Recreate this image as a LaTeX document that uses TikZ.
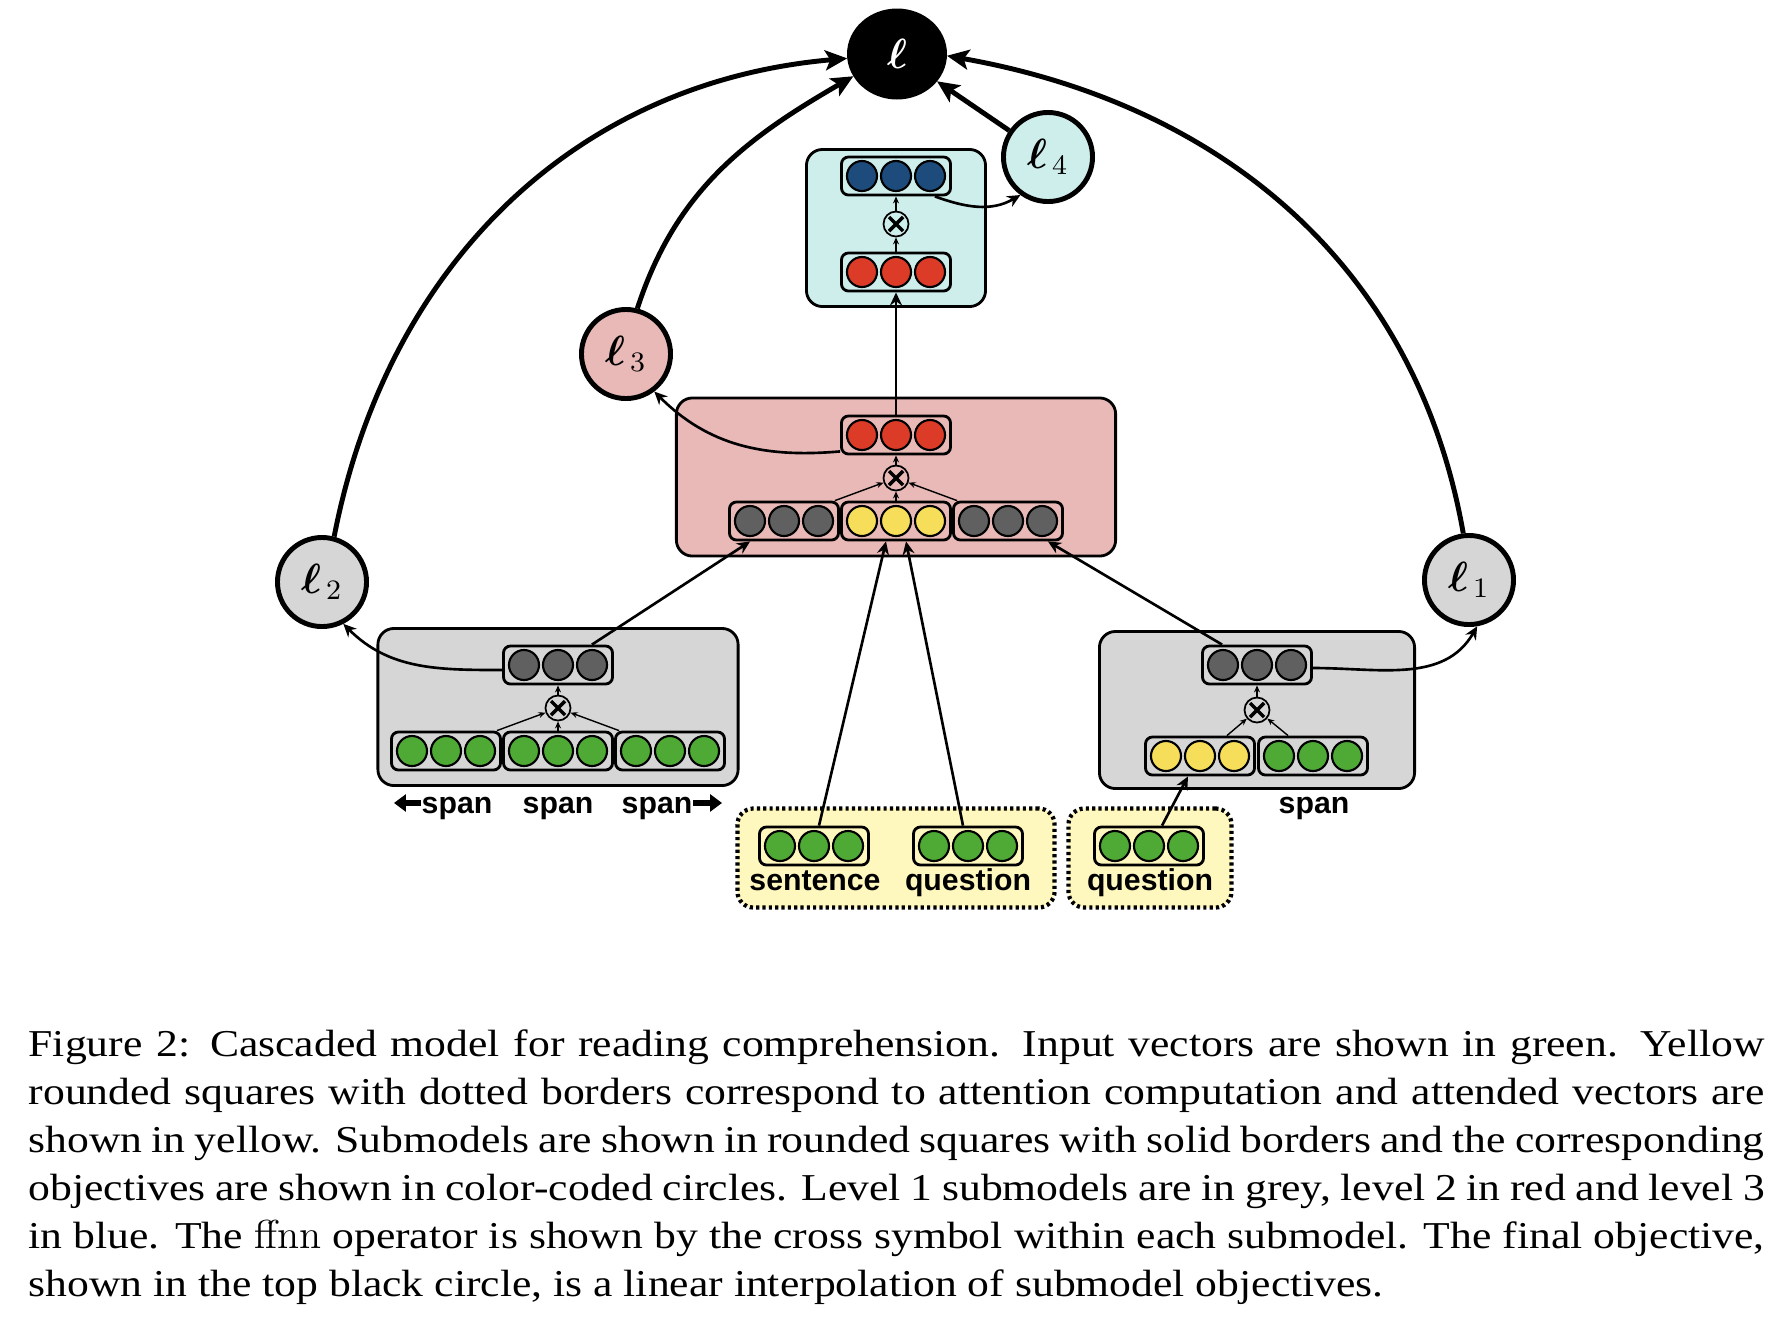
\documentclass[tikz,border=0pt]{standalone}
\usepackage{fontspec}
\usepackage{bm}
\usetikzlibrary{arrows.meta,shapes.geometric}
\newfontfamily\labfont{Liberation Sans}
\newfontfamily\capfont{Liberation Serif}[FakeStretch=1.149]
\definecolor{greyfill}{HTML}{D6D6D6}
\definecolor{redfill}{HTML}{E8B9B7}
\definecolor{bluefill}{HTML}{CEEEEC}
\definecolor{attnfill}{HTML}{FFF8BE}
\definecolor{unitgreen}{HTML}{4EAA35}
\definecolor{unityellow}{HTML}{F6DE5A}
\definecolor{unitgrey}{HTML}{606060}
\definecolor{unitred}{HTML}{DC3B27}
\definecolor{unitblue}{HTML}{1D4C7C}
\tikzset{
  unitdot/.style={circle, draw, line width=0.6pt, inner sep=0pt, minimum size=0.30cm},
  vecbox/.style={draw, rounded corners=0.07cm, line width=0.8pt, inner sep=0pt,
    minimum width=1.09cm, minimum height=0.38cm},
  submodel/.style={draw, rounded corners=0.16cm, line width=0.8pt, inner sep=0pt},
  attn/.style={draw, fill=attnfill, dash pattern=on 0.9pt off 0.9pt, line width=1.2pt,
    rounded corners=0.16cm, inner sep=0pt},
  objective/.style={circle, draw, line width=1.4pt, minimum size=0.89cm, inner sep=0pt,
    font=\fontsize{12}{13}\selectfont},
  ffnnop/.style={circle, draw, line width=0.5pt, minimum size=0.25cm, inner sep=0pt,
    path picture={\draw[line width=1pt]
      ([shift={(-0.07cm,-0.07cm)}]path picture bounding box.center) -- ([shift={(0.07cm,0.07cm)}]path picture bounding box.center)
      ([shift={(-0.07cm,0.07cm)}]path picture bounding box.center) -- ([shift={(0.07cm,-0.07cm)}]path picture bounding box.center);}},
  feed/.style={-{Stealth[length=0.07cm,width=0.06cm]}, line width=0.4pt},
  link/.style={-{Stealth[length=0.13cm,width=0.12cm]}, line width=0.75pt},
  objlink/.style={-{Stealth[length=0.22cm,width=0.2cm,inset=0.05cm]}, line width=1.4pt},
  bigtip/.style={line width=1.6pt, -{Triangle[length=0.12cm,width=0.17cm]}},
  spantag/.style={font=\labfont\bfseries\fontsize{8.6}{9}\selectfont, inner sep=0pt, anchor=base}
}
% one vector: rounded box with three units
\newcommand{\vecrow}[3]{%
  \node[vecbox] (#1) at (#2) {};
  \foreach \i/\k in {-1/1,0/2,1/3}
    \node[unitdot, fill=#3] (#1-\k) at ([xshift=\i*0.34cm]#1.center) {};
}

\begin{document}
\begin{tikzpicture}[x=0.01cm,y=-0.01cm]
\useasboundingbox (0,0) rectangle (1778,1320);

% submodels and attention boxes
\node[submodel, fill=bluefill, minimum width=1.79cm, minimum height=1.57cm] (blue) at (896,228) {};
\node[submodel, fill=redfill, minimum width=4.39cm, minimum height=1.58cm] (red) at (896,477) {};
\node[submodel, fill=greyfill, minimum width=3.60cm, minimum height=1.57cm] (greyL) at (558,707) {};
\node[submodel, fill=greyfill, minimum width=3.15cm, minimum height=1.57cm] (greyR) at (1257,710) {};
\node[attn, minimum width=3.17cm, minimum height=0.99cm] (attnL) at (896,858) {};
\node[attn, minimum width=1.63cm, minimum height=0.99cm] (attnR) at (1150,858) {};

% vectors
\vecrow{bv}{896,176}{unitblue}
\vecrow{bin}{896,272}{unitred}
\vecrow{rv}{896,435}{unitred}
\vecrow{rgL}{784,521}{unitgrey}
\vecrow{ry}{896,521}{unityellow}
\vecrow{rgR}{1008,521}{unitgrey}
\vecrow{gv}{558,665}{unitgrey}
\vecrow{gL}{446,751}{unitgreen}
\vecrow{gM}{558,751}{unitgreen}
\vecrow{gR}{670,751}{unitgreen}
\vecrow{hv}{1257,665}{unitgrey}
\vecrow{hy}{1200,756}{unityellow}
\vecrow{hg}{1313,756}{unitgreen}
\vecrow{sv}{814,846}{unitgreen}
\vecrow{qv}{968,846}{unitgreen}
\vecrow{qw}{1149,846}{unitgreen}

% ffnn operators
\node[ffnnop] (bx) at (896,224) {};
\node[ffnnop] (rx) at (896,478) {};
\node[ffnnop] (gx) at (558,708) {};
\node[ffnnop] (hx) at (1257,710) {};

\draw[feed] (bin.north) -- (bx.south);
\draw[feed] (bx.north) -- (bv.south);
\draw[feed] ([xshift=-0.05cm]rgL.north east) -- (rx);
\draw[feed] (ry.north) -- (rx.south);
\draw[feed] ([xshift=0.05cm]rgR.north west) -- (rx);
\draw[feed] (rx.north) -- (rv.south);
\draw[feed] ([xshift=-0.05cm]gL.north east) -- (gx);
\draw[feed] (gM.north) -- (gx.south);
\draw[feed] ([xshift=0.05cm]gR.north west) -- (gx);
\draw[feed] (gx.north) -- (gv.south);
\draw[feed] ([xshift=-0.29cm]hy.north east) -- (hx);
\draw[feed] ([xshift=0.31cm]hg.north west) -- (hx);
\draw[feed] (hx.north) -- (hv.south);

% objectives
\node[objective, ellipse, fill=black, text=white, minimum width=0.95cm, minimum height=0.86cm] (obj) at (897,54) {$\bm{\ell}$};
\node[objective, fill=bluefill] (obj4) at (1048,157) {$\bm{\ell}_{\,4}$};
\node[objective, fill=redfill] (obj3) at (626,354) {$\bm{\ell}_{\,3}$};
\node[objective, fill=greyfill] (obj2) at (322,582) {$\bm{\ell}_{\,2}$};
\node[objective, fill=greyfill] (obj1) at (1469,580) {$\bm{\ell}_{\,1}$};

% links between submodels
\draw[link] (rv.north) -- (bin.south);
\draw[link] ([xshift=-0.22cm]gv.north east) -- ([xshift=0.22cm]rgL.south west);
\draw[link] ([xshift=0.21cm]hv.north west) -- ([xshift=-0.16cm]rgR.south east);
\draw[link] ([xshift=0.05cm]sv.north) -- ([xshift=-0.1cm]ry.south);
\draw[link] ([xshift=-0.05cm]qv.north) -- ([xshift=0.1cm]ry.south);
\draw[link] ([xshift=0.13cm]qw.north) -- ([xshift=-0.12cm]hy.south);

% links to objectives
\draw[link] ([xshift=-0.17cm]bv.south east) to[out=-20,in=-150] (obj4.-126);
\draw[link] ([yshift=0.04cm]rv.south west) to[out=185,in=-45] (obj3.-53);
\draw[link] ([yshift=-0.05cm]gv.west) to[out=180,in=-45] (obj2.-63);
\draw[link] ([yshift=-0.03cm]hv.east) to[out=0,in=-120] (obj1.-80);

\draw[objlink] (obj2.75) to[out=79,in=185] (obj.185);
\draw[objlink] (obj3.76) to[out=72,in=210] (obj.207);
\draw[objlink] (obj1.97) to[out=100,in=-10] (obj.-2);
\draw[objlink] (obj4) -- (obj);

% labels
\node[spantag] (spanA) at (457,813) {span};
\node[spantag] (spanB) at (558,813) {span};
\node[spantag] (spanC) at (657,813) {span};
\node[spantag] (spanD) at (1314,813) {span};
\node[spantag] (sent) at (815,890) {sentence};
\node[spantag] (ques) at (968,890) {question};
\node[spantag] (quesR) at (1150,890) {question};
\draw[bigtip] ([yshift=0.05cm]spanA.west) -- ++(-0.27cm,0);
\draw[bigtip] ([yshift=0.05cm]spanC.east) -- ++(0.29cm,0);

% caption
\node[anchor=north west, text width=17.35cm, align=justify, inner sep=0pt,
  font=\capfont\fontsize{10.8}{13.66}\selectfont] (caption) at (28,1029)
  {Figure 2: Cascaded model for reading comprehension. Input vectors are shown in green. Yellow\linebreak
   rounded squares with dotted borders correspond to attention computation and attended vectors are\linebreak
   shown in yellow. Submodels are shown in rounded squares with solid borders and the corresponding\linebreak
   objectives are shown in color-coded circles. Level 1 submodels are in grey, level 2 in red and level 3\linebreak
   in blue. The {\rmfamily\fontsize{11.5}{13.66}\selectfont ffnn} operator is shown by the cross symbol within each submodel. The final objective,\linebreak
   shown in the top black circle, is a linear interpolation of submodel objectives.};
\end{tikzpicture}
\end{document}
